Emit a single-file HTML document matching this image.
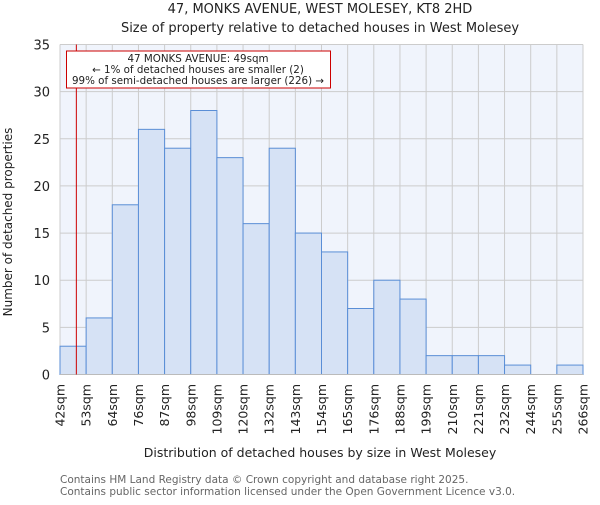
<!DOCTYPE html>
<html><head><meta charset="utf-8"><style>
body{margin:0;background:#fff}
svg{font-family:"DejaVu Sans","Liberation Sans",sans-serif}
</style></head><body>
<svg id="chart" width="600" height="500" viewBox="0 0 600 500">
<text x="320" y="13" text-anchor="middle" font-size="13" fill="#222">47, MONKS AVENUE, WEST MOLESEY, KT8 2HD</text>
<text x="320" y="32" text-anchor="middle" font-size="13" fill="#222">Size of property relative to detached houses in West Molesey</text>
<rect x="60" y="44.5" width="523" height="330" fill="#f0f4fc"/>
<g id="grid"></g><g id="bars"></g><g id="axes"></g>
<text x="12" y="222" font-size="12" fill="#222" text-anchor="middle" transform="rotate(-90 12 222)">Number of detached properties</text>
<text x="320" y="457" font-size="12.5" fill="#222" text-anchor="middle">Distribution of detached houses by size in West Molesey</text>
<text x="60" y="483" font-size="10.5" fill="#666">Contains HM Land Registry data © Crown copyright and database right 2025.</text>
<text x="60" y="495" font-size="10.5" fill="#666">Contains public sector information licensed under the Open Government Licence v3.0.</text>
<line id="marker" y1="44.5" y2="374.5" stroke="#cc0000" stroke-width="1"/>
<g>
<rect x="66.5" y="51" width="264" height="37" fill="#fff" stroke="#cc0000" stroke-width="1"/>
<text x="198" y="62" font-size="10.3" text-anchor="middle" fill="#222">47 MONKS AVENUE: 49sqm</text>
<text x="198" y="73" font-size="10.3" text-anchor="middle" fill="#222">← 1% of detached houses are smaller (2)</text>
<text x="198" y="84" font-size="10.3" text-anchor="middle" fill="#222">99% of semi-detached houses are larger (226) →</text>
</g>
</svg>
<script>
const binLabels=["42sqm","53sqm","64sqm","76sqm","87sqm","98sqm","109sqm","120sqm","132sqm","143sqm","154sqm","165sqm","176sqm","188sqm","199sqm","210sqm","221sqm","232sqm","244sqm","255sqm","266sqm"];
const counts=[3,6,18,26,24,28,23,16,24,15,13,7,10,8,2,2,2,1,0,1];
const yTicks=[0,5,10,15,20,25,30,35];
const propertySize=49;
const binStart=42, binEnd=266;
const NS="http://www.w3.org/2000/svg";
const X0=60,X1=583,Y0=374.5,Y1=44.5,YMAX=35;
const n=counts.length,bw=(X1-X0)/n;
const xi=i=>X0+i*bw;
const y=v=>Y0-(v/YMAX)*(Y0-Y1);
const xs=s=>X0+(s-binStart)/(binEnd-binStart)*(X1-X0);
function mk(t,a,p){const e=document.createElementNS(NS,t);for(const k in a)e.setAttribute(k,a[k]);p.appendChild(e);return e;}
const grid=document.getElementById('grid'),bars=document.getElementById('bars'),axes=document.getElementById('axes');
for(let i=0;i<=n;i++){const l=mk('line',{x1:xi(i),x2:xi(i),y1:Y1,y2:Y0,stroke:'#cccccc','stroke-width':1},grid);

}
yTicks.forEach(v=>{const l=mk('line',{x1:X0,x2:X1,y1:y(v),y2:y(v),stroke:'#cccccc','stroke-width':1},grid);


const t=mk('text',{x:X0-10,y:y(v)+5,'text-anchor':'end','font-size':13,fill:'#222'},axes);t.textContent=v;

});
counts.forEach((c,i)=>{if(c<=0)return;const r=mk('rect',{x:xi(i),y:y(c),width:bw,height:Y0-y(c),fill:'#d6e2f5',stroke:'#5a8ed6','stroke-width':1},bars);

});
binLabels.forEach((s,i)=>{const x=xi(i)+4.5,yy=384;const t=mk('text',{x:x,y:yy,'text-anchor':'end','font-size':12.5,fill:'#222',transform:`rotate(-90 ${x} ${yy})`},axes);t.textContent=s;

});
const ax=mk('line',{x1:X0,x2:X1,y1:Y0,y2:Y0,stroke:'#bbb','stroke-width':1},axes);


const m=document.getElementById('marker');m.setAttribute('x1',xs(propertySize));m.setAttribute('x2',xs(propertySize));
</script>
</body></html>
